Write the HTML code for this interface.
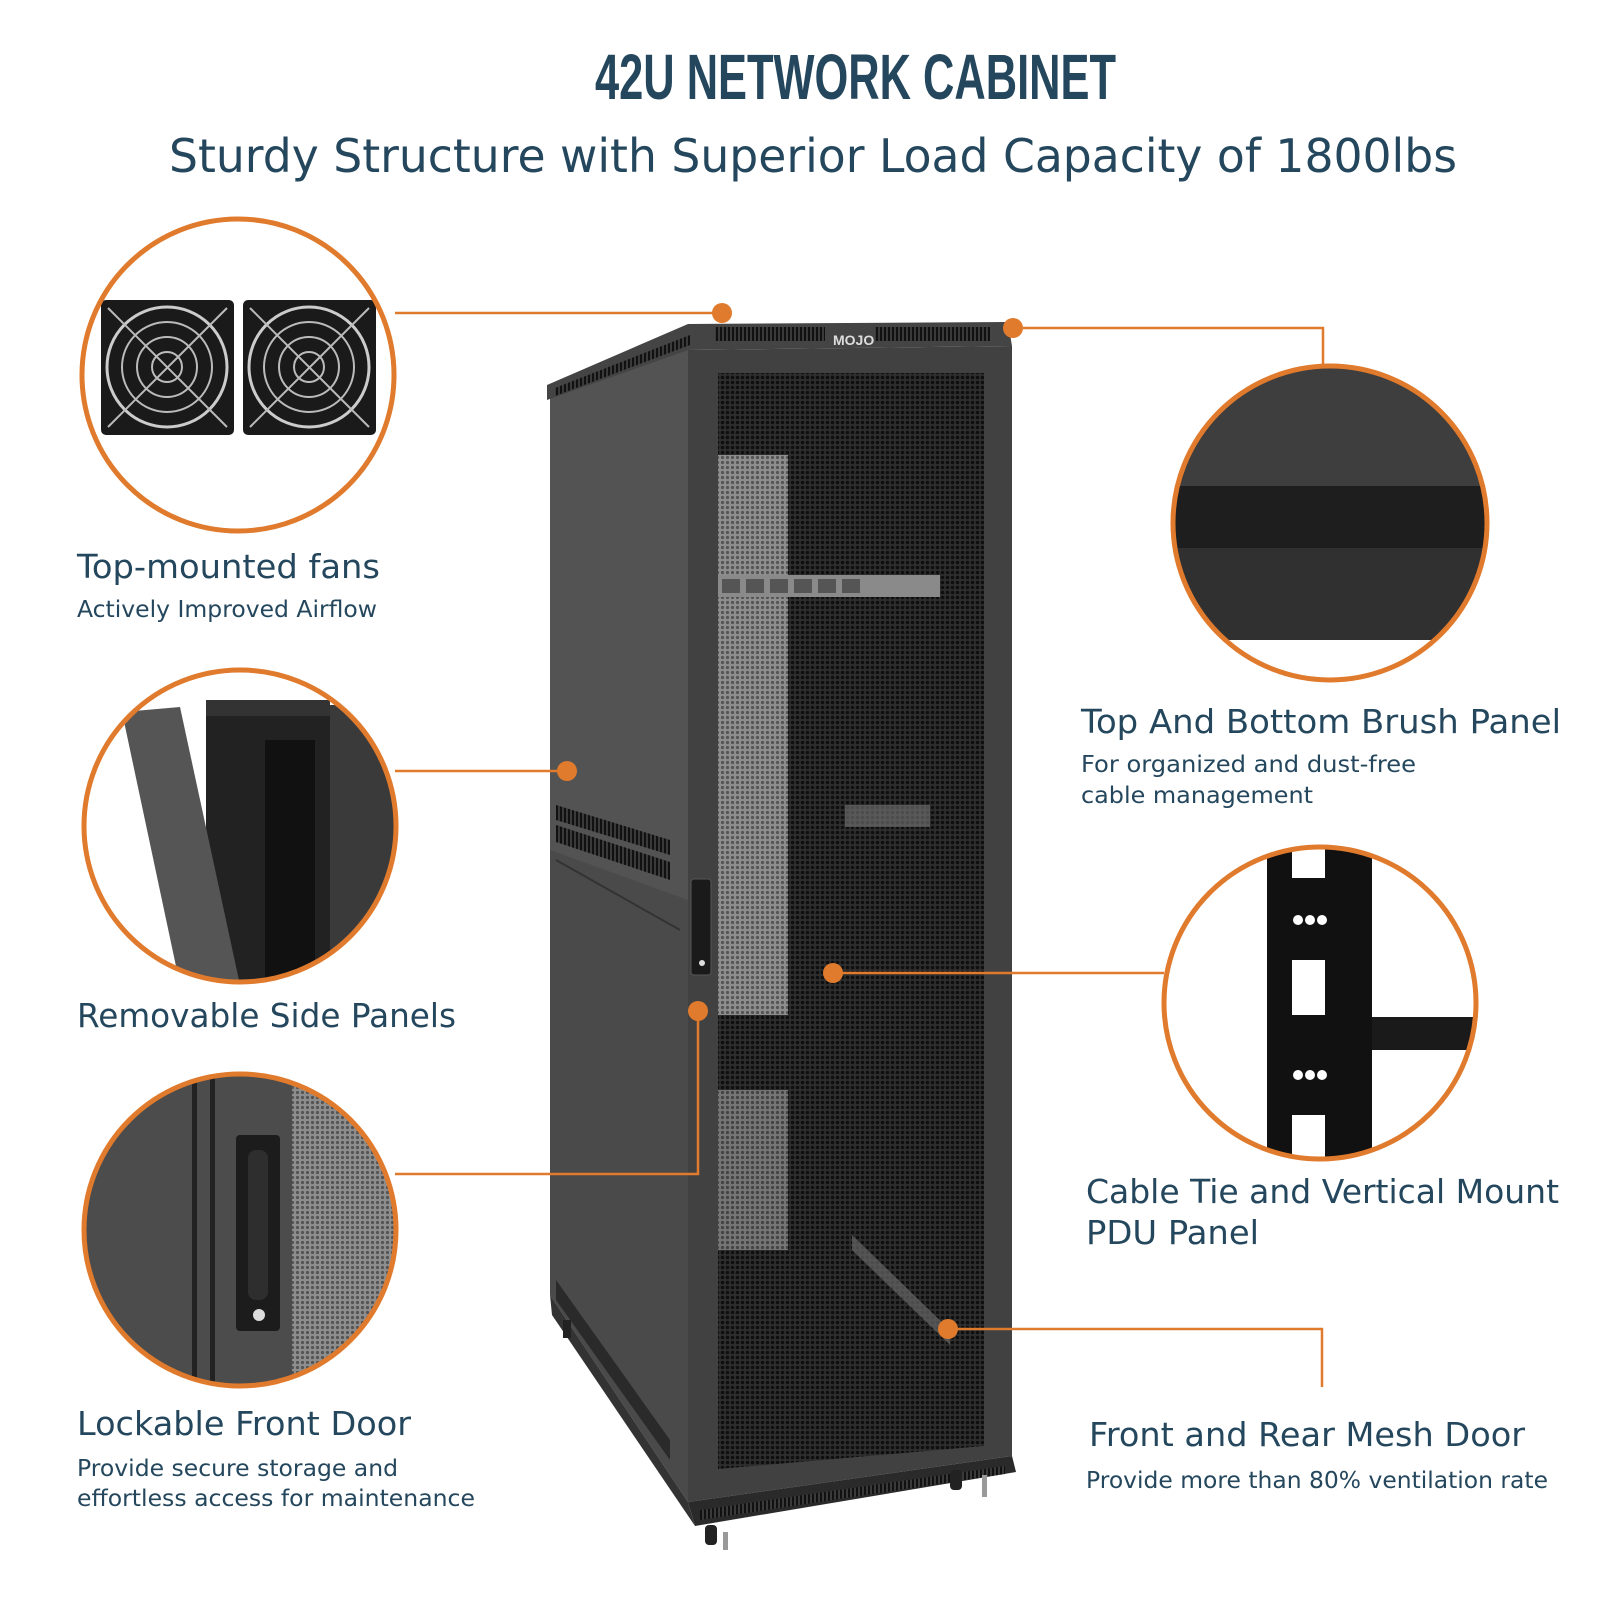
<!DOCTYPE html>
<html><head><meta charset="utf-8"><style>
html,body{margin:0;padding:0;background:#fff;}
svg{display:block}
text{font-family:"DejaVu Sans","Liberation Sans",sans-serif;fill:#24475d}
</style></head><body>
<svg width="1600" height="1600" viewBox="0 0 1600 1600" xmlns="http://www.w3.org/2000/svg">
<defs>
<pattern id="mesh" width="5" height="5" patternUnits="userSpaceOnUse">
<rect width="5" height="5" fill="#2e2e2e"/><circle cx="2.5" cy="2.5" r="1.8" fill="#0f0f0f"/></pattern>
<pattern id="meshL" width="5" height="5" patternUnits="userSpaceOnUse">
<rect width="5" height="5" fill="#8e8e8e"/><circle cx="2.5" cy="2.5" r="1.6" fill="#555"/></pattern>
<pattern id="vent" width="4" height="10" patternUnits="userSpaceOnUse">
<rect width="4" height="10" fill="#3a3a3a"/><rect width="2" height="10" fill="#111"/></pattern>
<clipPath id="c1"><circle cx="238" cy="375" r="155"/></clipPath>
<clipPath id="c2"><circle cx="240" cy="826" r="155"/></clipPath>
<clipPath id="c3"><circle cx="240" cy="1230" r="155"/></clipPath>
<clipPath id="c4"><circle cx="1330" cy="523" r="157"/></clipPath>
<clipPath id="c5"><circle cx="1320" cy="1003" r="155"/></clipPath>
</defs>

<text x="595" y="99" textLength="521" lengthAdjust="spacingAndGlyphs" style="font-family:'Liberation Sans',sans-serif;font-weight:bold;font-size:64px">42U NETWORK CABINET</text>
<text x="169" y="172" textLength="1288" lengthAdjust="spacingAndGlyphs" style="font-size:46px">Sturdy Structure with Superior Load Capacity of 1800lbs</text>

<polygon points="550,388 688,345 688,1502 550,1295" fill="#4a4a4a"/>
<polygon points="550,388 688,345 688,900 550,850" fill="#535353"/>
<polygon points="556,805 670,840 670,855 556,820" fill="url(#vent)"/>
<polygon points="556,825 670,862 670,880 556,842" fill="url(#vent)"/>
<polygon points="556,1280 670,1440 670,1460 556,1300" fill="#2a2a2a"/>
<line x1="556" y1="860" x2="680" y2="930" stroke="#333" stroke-width="2"/>
<polygon points="547,385 688,324 1008,322 1012,346 688,350 547,400" fill="#444"/>
<polygon points="555,388 690,335 690,345 555,396" fill="url(#vent)"/>
<rect x="715" y="327" width="110" height="14" fill="url(#vent)"/>
<rect x="875" y="327" width="115" height="14" fill="url(#vent)"/>
<text x="833" y="345" style="font-family:'Liberation Sans',sans-serif;font-weight:bold;font-size:14px;fill:#ddd">MOJO</text>
<polygon points="688,350 1012,346 1012,1456 688,1502" fill="#414141"/>
<polygon points="718,373 984,373 984,1446 718,1469" fill="url(#mesh)"/>
<rect x="718" y="455" width="70" height="560" fill="url(#meshL)"/>
<rect x="718" y="1090" width="70" height="160" fill="url(#meshL)" opacity="0.75"/>
<rect x="718" y="575" width="222" height="22" fill="#8a8a8a"/>
<g fill="#555"><rect x="722" y="579" width="18" height="14"/><rect x="746" y="579" width="18" height="14"/><rect x="770" y="579" width="18" height="14"/><rect x="794" y="579" width="18" height="14"/><rect x="818" y="579" width="18" height="14"/><rect x="842" y="579" width="18" height="14"/></g>
<polygon points="852,1235 950,1330 950,1345 852,1250" fill="#666" opacity="0.7"/>
<rect x="845" y="805" width="85" height="22" fill="#777" opacity="0.6"/>
<rect x="691" y="879" width="20" height="96" rx="3" fill="#1a1a1a" stroke="#555"/>
<circle cx="702" cy="963" r="3" fill="#ddd"/>
<polygon points="688,1502 1012,1456 1016,1472 695,1526" fill="#2a2a2a"/>
<polygon points="700,1510 1005,1466 1005,1474 700,1520" fill="url(#vent)"/>
<polygon points="550,1295 688,1502 695,1526 552,1315" fill="#333"/>
<g fill="#222"><rect x="705" y="1525" width="12" height="20" rx="4"/><rect x="723" y="1532" width="5" height="18" fill="#999"/><rect x="950" y="1470" width="12" height="20" rx="4"/><rect x="982" y="1475" width="5" height="22" fill="#999"/><rect x="563" y="1320" width="8" height="18"/></g>

<g stroke="#e07a2c" stroke-width="2.5" fill="none">
<polyline points="395,313 722,313"/>
<polyline points="1013,328 1323,328 1323,367"/>
<polyline points="395,771 567,771"/>
<polyline points="698,1011 698,1174 395,1174"/>
<polyline points="833,973 1164,973"/>
<polyline points="948,1329 1322,1329 1322,1387"/>
</g>
<g fill="#e07a2c">
<circle cx="722" cy="313" r="10"/><circle cx="1013" cy="328" r="10"/>
<circle cx="567" cy="771" r="10"/><circle cx="698" cy="1011" r="10"/>
<circle cx="833" cy="973" r="10"/><circle cx="948" cy="1329" r="10"/>
</g>

<g clip-path="url(#c1)">
<rect x="80" y="215" width="320" height="320" fill="#fff"/>
<g>
<rect x="101" y="300" width="133" height="135" rx="5" fill="#1a1a1a"/>
<circle cx="167" cy="367" r="60" fill="none" stroke="#ccc" stroke-width="3"/>
<circle cx="167" cy="367" r="45" fill="none" stroke="#bbb" stroke-width="2"/>
<circle cx="167" cy="367" r="30" fill="none" stroke="#bbb" stroke-width="2"/>
<circle cx="167" cy="367" r="15" fill="none" stroke="#bbb" stroke-width="2"/>
<line x1="108" y1="308" x2="227" y2="427" stroke="#bbb" stroke-width="2"/><line x1="227" y1="308" x2="108" y2="427" stroke="#bbb" stroke-width="2"/>
</g>
<g transform="translate(142,0)">
<rect x="101" y="300" width="133" height="135" rx="5" fill="#1a1a1a"/>
<circle cx="167" cy="367" r="60" fill="none" stroke="#ccc" stroke-width="3"/>
<circle cx="167" cy="367" r="45" fill="none" stroke="#bbb" stroke-width="2"/>
<circle cx="167" cy="367" r="30" fill="none" stroke="#bbb" stroke-width="2"/>
<circle cx="167" cy="367" r="15" fill="none" stroke="#bbb" stroke-width="2"/>
<line x1="108" y1="308" x2="227" y2="427" stroke="#bbb" stroke-width="2"/><line x1="227" y1="308" x2="108" y2="427" stroke="#bbb" stroke-width="2"/>
</g>
</g>
<circle cx="238" cy="375" r="156" fill="none" stroke="#e07a2c" stroke-width="5"/>

<g clip-path="url(#c2)">
<rect x="80" y="665" width="320" height="320" fill="#fff"/>
<polygon points="206,712 330,700 330,985 206,985" fill="#222"/>
<rect x="206" y="700" width="124" height="16" fill="#333"/>
<rect x="330" y="705" width="70" height="280" fill="#3a3a3a"/>
<polygon points="122,712 180,707 240,985 180,985" fill="#555"/>
<rect x="265" y="740" width="50" height="240" fill="#111"/>
</g>
<circle cx="240" cy="826" r="156" fill="none" stroke="#e07a2c" stroke-width="5"/>

<g clip-path="url(#c3)">
<rect x="80" y="1070" width="320" height="320" fill="#4c4c4c"/>
<rect x="192" y="1070" width="5" height="320" fill="#222"/>
<rect x="210" y="1070" width="5" height="320" fill="#222"/>
<rect x="292" y="1070" width="110" height="320" fill="url(#meshL)"/>
<rect x="236" y="1135" width="44" height="196" rx="4" fill="#1c1c1c"/>
<rect x="248" y="1150" width="20" height="150" rx="8" fill="#2e2e2e"/>
<circle cx="259" cy="1315" r="6" fill="#ddd"/>
</g>
<circle cx="240" cy="1230" r="156" fill="none" stroke="#e07a2c" stroke-width="5"/>

<g clip-path="url(#c4)">
<rect x="1170" y="365" width="320" height="320" fill="#3e3e3e"/>
<rect x="1170" y="486" width="320" height="62" fill="#1e1e1e"/>
<rect x="1170" y="548" width="320" height="92" fill="#303030"/>
<rect x="1170" y="640" width="320" height="50" fill="#fff"/>
</g>
<circle cx="1330" cy="523" r="157" fill="none" stroke="#e07a2c" stroke-width="5"/>

<g clip-path="url(#c5)">
<rect x="1162" y="845" width="320" height="320" fill="#fff"/>
<rect x="1267" y="845" width="105" height="320" fill="#111"/>
<rect x="1292" y="845" width="33" height="33" fill="#fff"/>
<rect x="1292" y="960" width="33" height="55" fill="#fff"/>
<rect x="1292" y="1115" width="33" height="50" fill="#fff"/>
<g fill="#fff"><circle cx="1298" cy="920" r="5"/><circle cx="1310" cy="920" r="5"/><circle cx="1322" cy="920" r="5"/><circle cx="1298" cy="1075" r="5"/><circle cx="1310" cy="1075" r="5"/><circle cx="1322" cy="1075" r="5"/></g>
<rect x="1372" y="1017" width="110" height="33" fill="#1a1a1a"/>
</g>
<circle cx="1320" cy="1003" r="156" fill="none" stroke="#e07a2c" stroke-width="5"/>

<text x="77" y="578" textLength="303" lengthAdjust="spacingAndGlyphs" style="font-size:33px">Top-mounted fans</text>
<text x="77" y="617" textLength="300" lengthAdjust="spacingAndGlyphs" style="font-size:23px">Actively Improved Airflow</text>
<text x="77" y="1027" textLength="379" lengthAdjust="spacingAndGlyphs" style="font-size:33px">Removable Side Panels</text>
<text x="77" y="1435" textLength="334" lengthAdjust="spacingAndGlyphs" style="font-size:33px">Lockable Front Door</text>
<text x="77" y="1476" textLength="321" lengthAdjust="spacingAndGlyphs" style="font-size:23px">Provide secure storage and</text>
<text x="77" y="1506" textLength="398" lengthAdjust="spacingAndGlyphs" style="font-size:23px">effortless access for maintenance</text>
<text x="1081" y="733" textLength="480" lengthAdjust="spacingAndGlyphs" style="font-size:33px">Top And Bottom Brush Panel</text>
<text x="1081" y="772" textLength="335" lengthAdjust="spacingAndGlyphs" style="font-size:23px">For organized and dust-free</text>
<text x="1081" y="803" textLength="232" lengthAdjust="spacingAndGlyphs" style="font-size:23px">cable management</text>
<text x="1086" y="1203" textLength="473" lengthAdjust="spacingAndGlyphs" style="font-size:33px">Cable Tie and Vertical Mount</text>
<text x="1086" y="1244" textLength="173" lengthAdjust="spacingAndGlyphs" style="font-size:33px">PDU Panel</text>
<text x="1089" y="1446" textLength="436" lengthAdjust="spacingAndGlyphs" style="font-size:33px">Front and Rear Mesh Door</text>
<text x="1086" y="1488" textLength="462" lengthAdjust="spacingAndGlyphs" style="font-size:23px">Provide more than 80% ventilation rate</text>
</svg>
</body></html>
